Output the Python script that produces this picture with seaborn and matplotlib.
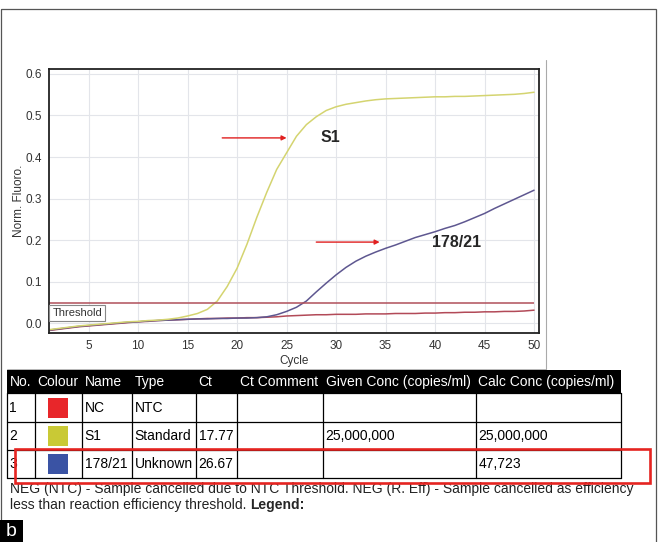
import matplotlib
matplotlib.use("Agg")
import pandas as pd
import matplotlib.pyplot as plt
import matplotlib.patches as mpatches
import seaborn as sns


# AMPLIFICATION CURVES (normalised fluorescence per cycle)
CYCLES = list(range(1, 51))
NC_FLUORO = [
    -0.018, -0.015, -0.012, -0.009, -0.007, -0.005, -0.003, -0.001, 0.001, 0.003,
    0.004, 0.006, 0.007, 0.008, 0.009, 0.010, 0.011, 0.011, 0.012, 0.012,
    0.013, 0.013, 0.014, 0.015, 0.017, 0.018, 0.019, 0.020, 0.020, 0.021,
    0.021, 0.021, 0.022, 0.022, 0.022, 0.023, 0.023, 0.023, 0.024, 0.024,
    0.025, 0.025, 0.026, 0.026, 0.027, 0.027, 0.028, 0.028, 0.029, 0.031,
]
S1_FLUORO = [
    -0.016, -0.013, -0.010, -0.007, -0.005, -0.003, -0.001, 0.001, 0.003, 0.004,
    0.006, 0.007, 0.009, 0.012, 0.017, 0.023, 0.033, 0.053, 0.088, 0.132,
    0.190, 0.255, 0.315, 0.370, 0.410, 0.450, 0.478, 0.497, 0.512, 0.521,
    0.527, 0.531, 0.535, 0.538, 0.540, 0.541, 0.542, 0.543, 0.544, 0.545,
    0.545, 0.546, 0.546, 0.547, 0.548, 0.549, 0.550, 0.551, 0.553, 0.556,
]
SAMPLE_FLUORO = [
    -0.017, -0.014, -0.011, -0.008, -0.006, -0.004, -0.002, 0.000, 0.002, 0.003,
    0.005, 0.006, 0.007, 0.008, 0.009, 0.010, 0.010, 0.011, 0.011, 0.012,
    0.012, 0.013, 0.015, 0.020, 0.028, 0.038, 0.053, 0.075, 0.096, 0.116,
    0.134, 0.149, 0.161, 0.171, 0.180, 0.188, 0.197, 0.206, 0.213, 0.220,
    0.228, 0.235, 0.244, 0.254, 0.264, 0.276, 0.287, 0.298, 0.309, 0.320,
]
THRESHOLD = 0.048
LINE_COLOURS = {"NC": "#b24a58", "S1": "#d4d470", "178/21": "#5e5790"}

# RESULTS TABLE
TABLE_HEADER = ["No.", "Colour", "Name", "Type", "Ct", "Ct Comment",
                "Given Conc (copies/ml)", "Calc Conc (copies/ml)"]
TABLE_ROWS = [
    ["1", "", "NC", "NTC", "", "", "", ""],
    ["2", "", "S1", "Standard", "17.77", "", "25,000,000", "25,000,000"],
    ["3", "", "178/21", "Unknown", "26.67", "", "", "47,723"],
]
SWATCH_COLOURS = ["#e8262a", "#c9c935", "#3a53a4"]
FOOTNOTE_1 = ("NEG (NTC) - Sample cancelled due to NTC Threshold. "
              "NEG (R. Eff) - Sample cancelled as efficiency")
FOOTNOTE_2 = "less than reaction efficiency threshold."

FONT = "Liberation Sans"
W, H = 659, 542


def build_frame():
    frames = []
    for name, vals in [("NC", NC_FLUORO), ("S1", S1_FLUORO), ("178/21", SAMPLE_FLUORO)]:
        frames.append(pd.DataFrame({"Cycle": CYCLES, "Fluoro": vals, "Sample": name}))
    return pd.concat(frames, ignore_index=True)


def px_axes(fig, left, top, right, bottom):
    return fig.add_axes([left / W, 1 - bottom / H, (right - left) / W, (bottom - top) / H])


# PAGE / TABLE LAYER
def draw_page(ov):
    ov.set_xlim(0, W)
    ov.set_ylim(H, 0)
    ov.axis("off")

    # outer border and screenshot edge
    ov.add_patch(mpatches.Rectangle((1, 9), 655, 540, fill=False, ec="#555555", lw=0.9))
    ov.plot([546, 546], [60, 369], color="#aaaaaa", lw=0.8)
    ov.plot([7, 546], [369, 369], color="#aaaaaa", lw=0.6)

    col_x = [7, 35, 82, 132, 196, 237, 323, 476, 621]
    row_y = [370, 393, 422, 450, 478]

    ov.add_patch(mpatches.Rectangle((col_x[0], row_y[0]), col_x[-1] - col_x[0],
                                    row_y[1] - row_y[0], color="black", lw=0))
    for i, label in enumerate(TABLE_HEADER):
        ov.text(col_x[i] + 2.5, (row_y[0] + row_y[1]) / 2 + 0.5, label, color="white",
                fontsize=10, family=FONT, ha="left", va="center")

    for r, row in enumerate(TABLE_ROWS):
        yc = (row_y[r + 1] + row_y[r + 2]) / 2
        for c, val in enumerate(row):
            if val:
                ov.text(col_x[c] + 2.5, yc + 0.5, val, fontsize=10, family=FONT,
                        ha="left", va="center", color="black")
        ov.add_patch(mpatches.Rectangle((48, yc - 10), 20, 20, color=SWATCH_COLOURS[r], lw=0))

    for y in row_y[1:]:
        ov.plot([col_x[0], col_x[-1]], [y, y], color="black", lw=0.9)
    for x in col_x:
        ov.plot([x, x], [row_y[1], row_y[-1]], color="black", lw=0.9)

    # footnote
    ov.text(10, 489, FOOTNOTE_1, fontsize=10, family=FONT, ha="left", va="center", color="#222222")
    t2 = ov.text(10, 505, FOOTNOTE_2, fontsize=10, family=FONT, ha="left", va="center", color="#222222")
    ov.annotate("Legend:", xy=(1, 0.5), xycoords=t2, xytext=(3, 0), textcoords="offset points",
                fontsize=10, family=FONT, fontweight="bold", ha="left", va="center")

    # highlighted row
    ov.add_patch(mpatches.Rectangle((15, 449), 635, 34, fill=False, ec="#e52421", lw=1.9, zorder=5))

    # panel letter
    ov.add_patch(mpatches.Rectangle((0, 520), 23, 24, color="black", lw=0))
    ov.text(11.5, 532, "b", color="white", fontsize=14, family=FONT, ha="center", va="center")


# AMPLIFICATION PLOT
def draw_plot(ax, data):
    sns.lineplot(data=data, x="Cycle", y="Fluoro", hue="Sample", palette=LINE_COLOURS,
                 hue_order=["NC", "178/21", "S1"], lw=1.1, legend=False, ax=ax)
    ax.hlines(THRESHOLD, 1, 50, color="#b0505a", lw=1.1)

    ax.set_xlim(1, 50.5)
    ax.set_ylim(-0.024, 0.612)
    ax.set_xticks(range(5, 51, 5))
    ax.set_yticks([0.0, 0.1, 0.2, 0.3, 0.4, 0.5, 0.6])
    ax.set_yticklabels([f"{v:.1f}" for v in ax.get_yticks()])
    ax.grid(True, color="#e3e5ea", lw=0.8)
    ax.tick_params(labelsize=8.5, labelcolor="#333333", length=3, width=0.8, color="#555555", pad=2)
    for lbl in ax.get_xticklabels() + ax.get_yticklabels():
        lbl.set_family(FONT)
    for sp in ax.spines.values():
        sp.set_color("#222222")
        sp.set_linewidth(1.3)

    ax.set_xlabel("Cycle", fontsize=8.5, family=FONT, color="#333333", labelpad=2)
    ax.set_ylabel("Norm. Fluoro.", fontsize=8.5, family=FONT, color="#333333", labelpad=0.5)

    ax.text(1.35, 0.024, "Threshold", fontsize=8, family=FONT, color="#333333", ha="left",
            va="center", bbox=dict(boxstyle="square,pad=0.28", fc="white", ec="#888888", lw=0.8))

    arrow = dict(arrowstyle="-|>", color="#e02020", lw=1.0, mutation_scale=7, shrinkA=0, shrinkB=0)
    ax.annotate("", xy=(25.0, 0.446), xytext=(18.5, 0.446), arrowprops=arrow)
    ax.annotate("", xy=(34.4, 0.195), xytext=(28.0, 0.195), arrowprops=arrow)
    ax.text(29.4, 0.448, "S1", fontsize=11.5, family=FONT, fontweight="bold", ha="center", va="center")
    ax.text(42.2, 0.193, "178/21", fontsize=11.5, family=FONT, fontweight="bold", ha="center", va="center")


def main():
    sns.set_style("white")
    fig = plt.figure(figsize=(W / 100, H / 100), dpi=100)
    ov = fig.add_axes([0, 0, 1, 1])
    ov.patch.set_visible(False)
    draw_page(ov)

    ax = px_axes(fig, 49, 69, 539, 333)
    draw_plot(ax, build_frame())

    fig.savefig("out.png", dpi=100)


if __name__ == "__main__":
    main()
